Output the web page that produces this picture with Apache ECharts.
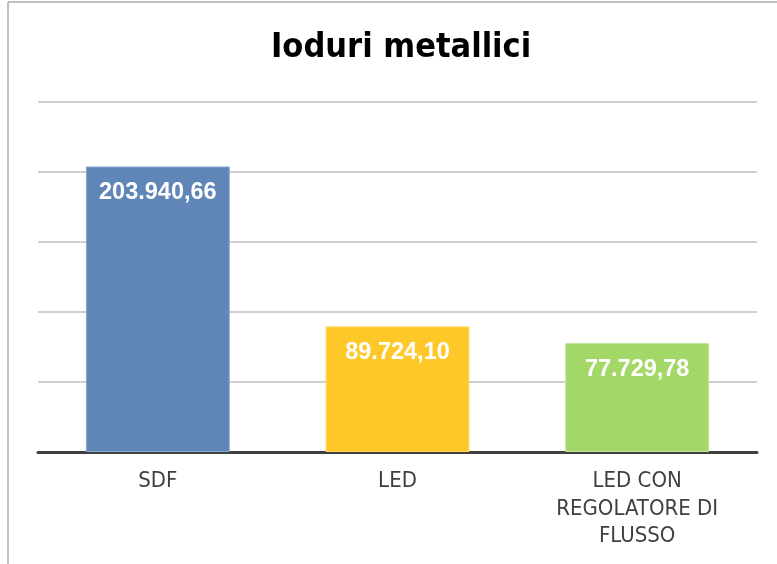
<!DOCTYPE html>
<html><head><meta charset="utf-8">
<script src="https://cdn.jsdelivr.net/npm/echarts@6/dist/echarts.min.js"></script>
<style>html,body{margin:0;padding:0;background:#fff}#c{width:777px;height:564px}</style>
</head><body><div id="c"></div>
<script>
const categories = ['SDF', 'LED', 'LED CON\nREGOLATORE DI\nFLUSSO'];
const values = [203940.66, 89724.10, 77729.78];
const barColors = ['#5f86b6', '#ffc829', '#a3d869'];
const borderColors = ['#87a6cc', '#ffd75e', '#bde394'];
const titleText = 'Ioduri metallici';

function fmt(v) {
  const parts = v.toFixed(2).split('.');
  return parts[0].replace(/\B(?=(\d{3})+(?!\d))/g, '.') + ',' + parts[1];
}

const chart = echarts.init(document.getElementById('c'), null, {renderer: 'canvas'});
chart.setOption({
  backgroundColor: '#fff',
  animation: false,
  title: {
    text: titleText, left: 266, top: 26,
    textStyle: {fontFamily: 'DejaVu Sans Condensed', fontWeight: 'bold', fontSize: 34, color: '#000'}
  },
  graphic: [
    {type: 'line', shape: {x1: 8, y1: 2, x2: 8, y2: 564}, style: {stroke: '#c0c0c0', lineWidth: 2}},
    {type: 'line', shape: {x1: 8, y1: 2, x2: 777, y2: 2}, style: {stroke: '#c0c0c0', lineWidth: 2}}
  ],
  grid: {left: 38, right: 20, top: 102, bottom: 112, containLabel: false},
  xAxis: {
    type: 'category', data: categories,
    axisLine: {lineStyle: {color: '#404040', width: 3}},
    axisTick: {show: false},
    axisLabel: {color: '#404040', fontFamily: 'DejaVu Sans Condensed', fontSize: 22, lineHeight: 27.5, margin: 16}
  },
  yAxis: {
    type: 'value', min: 0, max: 250000, interval: 50000,
    axisLabel: {show: false}, axisLine: {show: false}, axisTick: {show: false},
    splitLine: {lineStyle: {color: '#bfbfbf', width: 1.5}}
  },
  series: [{
    type: 'bar', barWidth: '60%',
    data: values.map((v, i) => ({value: v, itemStyle: {color: barColors[i], borderColor: borderColors[i], borderWidth: 1}})),
    label: {
      show: true, position: 'insideTop', distance: 14,
      formatter: p => fmt(p.value),
      color: '#fff', fontFamily: 'Liberation Sans', fontWeight: 'bold', fontSize: 23.5
    }
  }]
});
</script></body></html>
